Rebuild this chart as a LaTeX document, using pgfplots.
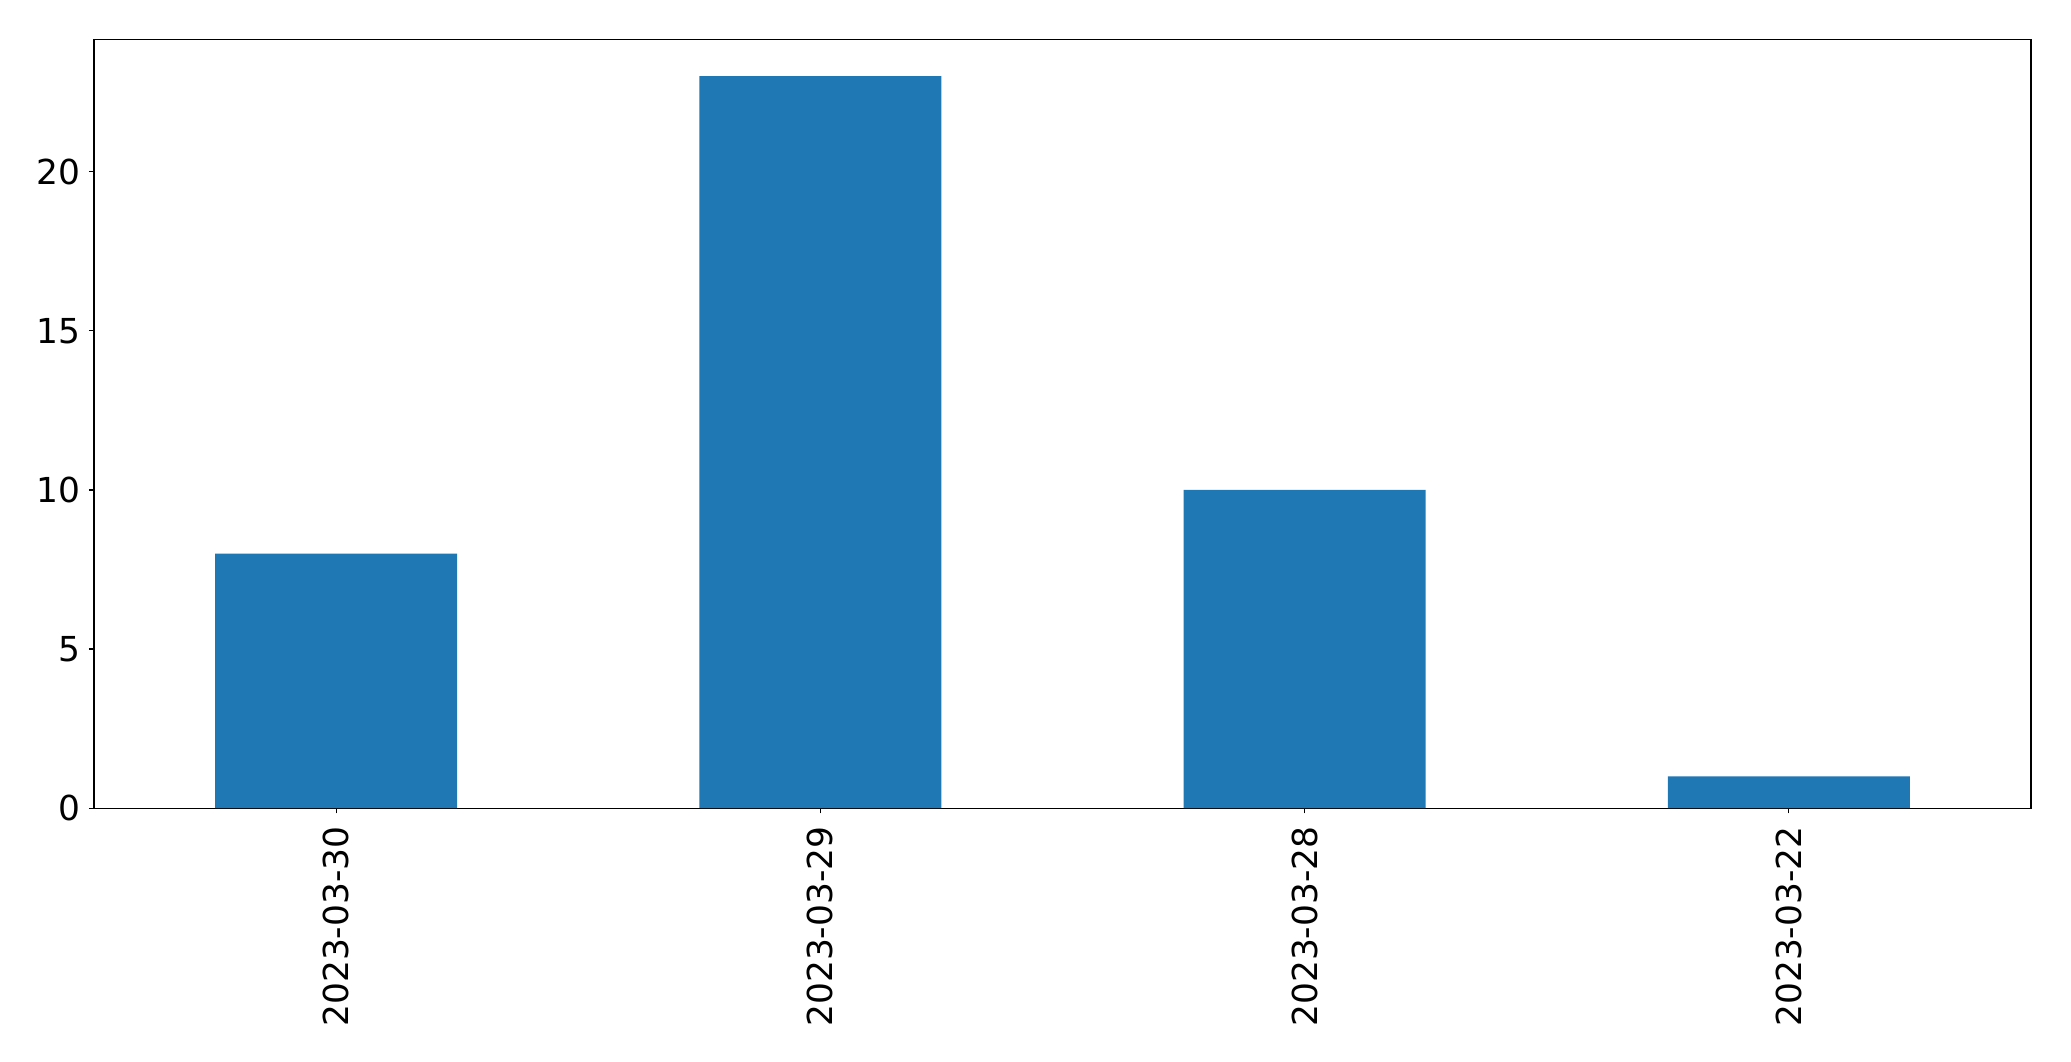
\documentclass[border=0pt]{standalone}
\usepackage{fontspec}
\setmainfont{DejaVu Sans}
\usepackage{pgfplots}
\pgfplotsset{compat=1.18}
\definecolor{mplblue}{HTML}{1F77B4}
\begin{document}
\begin{tikzpicture}
\begin{axis}[
  at={(0,0)}, anchor=south west,
  scale only axis,
  width=968.5pt, height=384.3pt,
  xmin=-0.5, xmax=3.5,
  ymin=0, ymax=24.15,
  xtick={0,1,2,3},
  xticklabels={2023-03-30,2023-03-29,2023-03-28,2023-03-22},
  ytick={0,5,10,15,20},
  tick align=outside,
  xtick pos=bottom, ytick pos=left,
  major tick length=2.6pt,
  axis line style={line width=0.6pt},
  every tick/.style={black, line width=0.6pt},
  /pgf/number format/assume math mode=true,
  tick label style={font=\fontsize{17.2}{20}\selectfont},
  x tick label style={rotate=90, anchor=east, inner sep=0pt},
  y tick label style={anchor=east, inner sep=0pt},
  xticklabel shift=6.4pt,
  yticklabel shift=3.9pt,
]
\addplot[ybar, bar width=0.5, bar shift=0pt, fill=mplblue, draw=none]
  coordinates {(0,8) (1,23) (2,10) (3,1)};
\end{axis}
\pgfresetboundingbox
\path (-47pt,-126.5pt) rectangle (988.5pt,404.1pt);
\end{tikzpicture}
\end{document}
